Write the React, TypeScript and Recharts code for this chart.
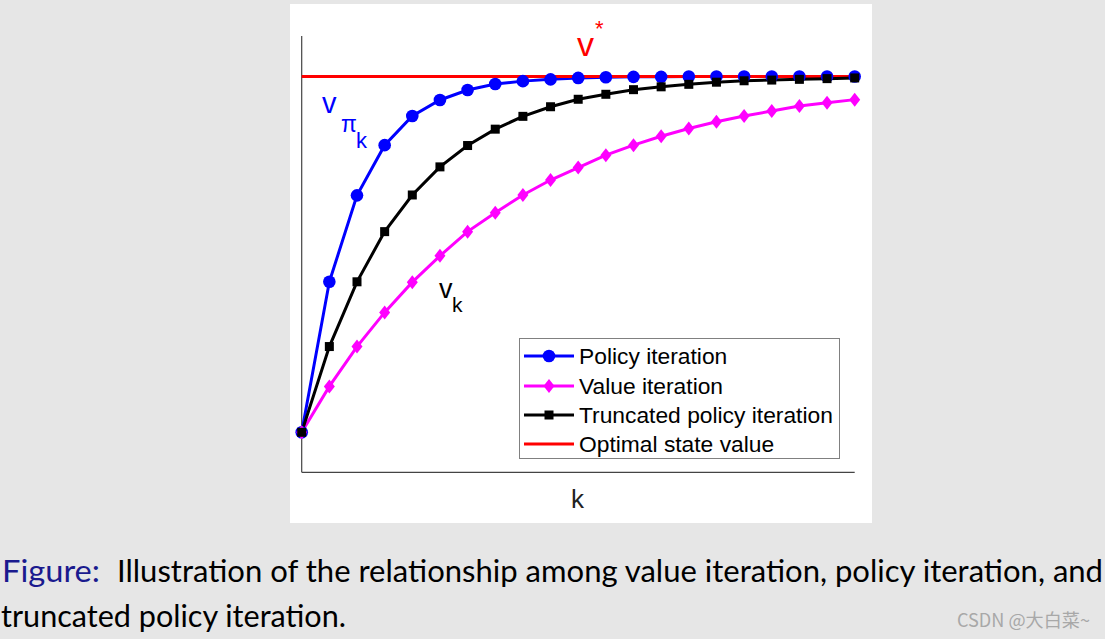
import { LineChart, Line, XAxis, YAxis, ReferenceLine, Legend } from "recharts"

// k = 0 .. 20, values normalised so that v* = 1 and the start value = 0
const kSteps = [0, 1, 2, 3, 4, 5, 6, 7, 8, 9, 10, 11, 12, 13, 14, 15, 16, 17, 18, 19, 20]
const policyIteration = [0, 0.423, 0.666, 0.807, 0.889, 0.934, 0.962, 0.979, 0.987, 0.992, 0.996, 0.998, 0.999, 0.999, 1.0, 1.0, 1.0, 1.0, 1.0, 1.0, 1.0]
const valueIteration = [0, 0.129, 0.241, 0.337, 0.422, 0.496, 0.564, 0.617, 0.667, 0.709, 0.744, 0.779, 0.807, 0.832, 0.854, 0.873, 0.889, 0.903, 0.917, 0.926, 0.935]
const truncatedPolicyIteration = [0, 0.241, 0.423, 0.564, 0.667, 0.746, 0.806, 0.852, 0.888, 0.915, 0.936, 0.95, 0.963, 0.971, 0.978, 0.984, 0.988, 0.99, 0.992, 0.994, 0.996]
const optimalValue = 1
const optimalLineEnd = 20.16

const seriesNames = {
  policy: "Policy iteration",
  value: "Value iteration",
  truncated: "Truncated policy iteration",
  optimal: "Optimal state value",
}
const legendOrder = ["policy", "value", "truncated", "optimal"]

const chartData = [
  ...kSteps.map((k, i) => ({
    k,
    policy: policyIteration[i],
    value: valueIteration[i],
    truncated: truncatedPolicyIteration[i],
    optimal: optimalValue,
  })),
  { k: optimalLineEnd, optimal: optimalValue },
]

// axis extents in data units
const X_DOMAIN: [number, number] = [-0.3, 20.6]
const Y_DOMAIN: [number, number] = [-0.25, 1.2]
const AXIS_X_END = 20
const AXIS_Y_BOTTOM = -0.1124
const AXIS_Y_TOP = 1.1138

const BLUE = "#0000ff"
const MAGENTA = "#ff00ff"
const RED = "#ff0000"
const FONT = "'Liberation Sans', Arial, sans-serif"

function Marker({ kind, cx, cy, color }: { kind: string; cx: number; cy: number; color: string }) {
  if (kind === "circle") return <circle cx={cx} cy={cy} r={6.3} fill={color} />
  if (kind === "diamond")
    return <polygon points={`${cx},${cy - 7} ${cx + 5.5},${cy} ${cx},${cy + 7} ${cx - 5.5},${cy}`} fill={color} />
  if (kind === "square") return <rect x={cx - 4.5} y={cy - 4.5} width={9} height={9} fill={color} />
  return null
}

const makeDot = (kind: string, color: string) => (props: any) => {
  const { cx, cy, index } = props
  if (cx == null || cy == null || props.value == null) return <g key={`e-${kind}-${index}`} />
  return (
    <g key={`d-${kind}-${index}`}>
      <Marker kind={kind} cx={cx} cy={cy} color={color} />
    </g>
  )
}

const markerOf: Record<string, string> = { policy: "circle", value: "diamond", truncated: "square", optimal: "none" }

function LegendBox(props: any) {
  const items = [...(props.payload || [])].sort(
    (a: any, b: any) => legendOrder.indexOf(a.dataKey) - legendOrder.indexOf(b.dataKey)
  )
  const rowsY = [18, 48, 77, 106]
  return (
    <svg width={322} height={122} style={{ display: "block" }}>
      <rect x={0.5} y={0.5} width={320} height={120} fill="#fff" stroke="#808080" />
      {items.map((it: any, i: number) => (
        <g key={it.dataKey}>
          <line x1={5} x2={55} y1={rowsY[i]} y2={rowsY[i]} stroke={it.color} strokeWidth={3} />
          <Marker kind={markerOf[it.dataKey]} cx={30} cy={rowsY[i]} color={it.color} />
          <text x={60} y={rowsY[i] + 8} fontSize={22.8} fontFamily={FONT} fill="#000">
            {it.value}
          </text>
        </g>
      ))}
    </svg>
  )
}

export default function App() {
  return (
    <div style={{ position: "absolute", left: 0, top: 0, width: 1105, height: 639, background: "#e6e6e6", overflow: "hidden" }}>
      <div style={{ position: "absolute", left: 290, top: 4, width: 582, height: 519, background: "#fff" }}>
        <LineChart width={582} height={519} data={chartData} margin={{ top: 1.34, right: 0.71, bottom: 1.75, left: 3.405 }}>
          <XAxis type="number" dataKey="k" domain={X_DOMAIN} allowDataOverflow hide />
          <YAxis type="number" domain={Y_DOMAIN} allowDataOverflow hide />
          <ReferenceLine segment={[{ x: 0, y: AXIS_Y_BOTTOM }, { x: 0, y: AXIS_Y_TOP }]} stroke="#444" strokeWidth={1.2} />
          <ReferenceLine segment={[{ x: 0, y: AXIS_Y_BOTTOM }, { x: AXIS_X_END, y: AXIS_Y_BOTTOM }]} stroke="#444" strokeWidth={1.2} />
          <Legend
            layout="vertical"
            align="center"
            verticalAlign="middle"
            content={<LegendBox />}
            wrapperStyle={{ left: 229, top: 334, width: 322, height: 122 }}
          />
          <Line dataKey="policy" name={seriesNames.policy} stroke={BLUE} strokeWidth={3} type="linear"
            dot={makeDot("circle", BLUE)} activeDot={false} isAnimationActive={false} />
          <Line dataKey="value" name={seriesNames.value} stroke={MAGENTA} strokeWidth={3} type="linear"
            dot={makeDot("diamond", MAGENTA)} activeDot={false} isAnimationActive={false} />
          <Line dataKey="optimal" name={seriesNames.optimal} stroke={RED} strokeWidth={3} type="linear"
            dot={false} activeDot={false} isAnimationActive={false} />
          <Line dataKey="truncated" name={seriesNames.truncated} stroke="#000" strokeWidth={3} type="linear"
            dot={makeDot("square", "#000")} activeDot={false} isAnimationActive={false} />
        </LineChart>
      </div>

      <svg width={1105} height={639} style={{ position: "absolute", left: 0, top: 0, pointerEvents: "none" }}>
        <g fontFamily={FONT}>
          <text x={577} y={56} fontSize={34} fill={RED}>v</text>
          <text x={595} y={36} fontSize={22} fill={RED}>*</text>
          <text x={322} y={113} fontSize={29} fill={BLUE}>v</text>
          <text x={341} y={132} fontSize={23} fill={BLUE}>π</text>
          <text x={356} y={148} fontSize={22} fill={BLUE}>k</text>
          <text x={439} y={298} fontSize={27} fill="#000">v</text>
          <text x={452} y={312} fontSize={21} fill="#000">k</text>
          <text x={577.5} y={507.5} fontSize={26} fill="#222" textAnchor="middle">k</text>
        </g>
        <g fontFamily="Lato, 'Open Sans', sans-serif" fontSize={30}>
          <text x={2} y={582} fill="#1a1a8e" textLength={98} lengthAdjust="spacingAndGlyphs">Figure:</text>
          <text x={117} y={582} fill="#000" textLength={986} lengthAdjust="spacingAndGlyphs">
            Illustration of the relationship among value iteration, policy iteration, and
          </text>
          <text x={1} y={627} fill="#000" textLength={345} lengthAdjust="spacingAndGlyphs">truncated policy iteration.</text>
        </g>
        <text x={957} y={627} fontSize={18} fontFamily="'Noto Sans CJK SC', 'Noto Sans', sans-serif" fill="#a8a8a8"
          textLength={133} lengthAdjust="spacingAndGlyphs">
          CSDN @大白菜~
        </text>
      </svg>
    </div>
  )
}
